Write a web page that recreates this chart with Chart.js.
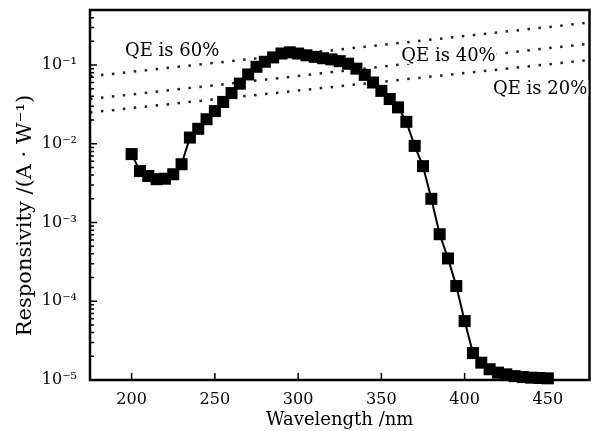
<!DOCTYPE html>
<html lang="en">
<head>
<meta charset="UTF-8">
<title>Responsivity</title>
<script src="https://cdn.jsdelivr.net/npm/chart.js"></script>
<style>
  html, body { margin: 0; padding: 0; background: #fff; }
</style>
</head>
<body>
<canvas id="grafica" width="598" height="431"></canvas>
<script>
// datos
const wavelength = [200, 205, 210, 215, 220, 225, 230, 235, 240, 245,
                    250, 255, 260, 265, 270, 275, 280, 285, 290, 295,
                    300, 305, 310, 315, 320, 325, 330, 335, 340, 345,
                    350, 355, 360, 365, 370, 375, 380, 385, 390, 395,
                    400, 405, 410, 415, 420, 425, 430, 435, 440, 445, 450];
const responsivity = [7.4e-3, 4.5e-3, 3.9e-3, 3.55e-3, 3.6e-3, 4.1e-3, 5.5e-3, 1.2e-2, 1.55e-2, 2.05e-2,
                      2.6e-2, 3.4e-2, 4.4e-2, 5.8e-2, 7.6e-2, 9.5e-2, 0.11, 0.125, 0.14, 0.145,
                      0.14, 0.133, 0.127, 0.122, 0.118, 0.112, 0.104, 0.09, 0.075, 0.06,
                      0.047, 0.037, 0.029, 0.019, 9.4e-3, 5.2e-3, 2.0e-3, 7.1e-4, 3.5e-4, 1.56e-4,
                      5.6e-5, 2.2e-5, 1.66e-5, 1.37e-5, 1.24e-5, 1.18e-5, 1.12e-5, 1.09e-5, 1.07e-5, 1.06e-5, 1.05e-5];

// lineas de eficiencia cuantica (extremos)
const qeWavelength = [175, 475];
const qe60 = [0.072, 0.346];
const qe40 = [0.037, 0.187];
const qe20 = [0.025, 0.116];
const qeLabels = ['QE is 60%', 'QE is 40%', 'QE is 20%'];

const xTicks = [200, 250, 300, 350, 400, 450];
const yTicks = [1e-5, 1e-4, 1e-3, 1e-2, 1e-1];
const yTickLabels = ['10⁻⁵', '10⁻⁴', '10⁻³', '10⁻²', '10⁻¹'];
const yTitle = 'Responsivity /(A · W⁻¹)';

const FONT = 'DejaVu Serif';

function puntos(xs, ys) {
    return xs.map((x, i) => ({ x: x, y: ys[i] }));
}

function lineaQE(valores) {
    return {
        data: puntos(qeWavelength, valores),
        showLine: true,
        borderColor: '#222',
        borderWidth: 2.5,
        borderDash: [2.5, 8.5],
        pointRadius: 0,
        order: 2
    };
}

// marco, marcas de los ejes y textos
const marco = {
    id: 'marco',
    afterDatasetsDraw(chart) {
        const ctx = chart.ctx;
        const a = chart.chartArea;
        const x = chart.scales.x;
        const y = chart.scales.y;
        ctx.save();
        ctx.strokeStyle = '#000';
        ctx.lineWidth = 1.5;
        ctx.beginPath();
        xTicks.forEach(v => {
            const px = x.getPixelForValue(v);
            ctx.moveTo(px, a.bottom);
            ctx.lineTo(px, a.bottom - 7);
        });
        for (let e = -5; e <= 0; e++) {
            for (let m = 1; m <= 9; m++) {
                const v = m * Math.pow(10, e);
                if (v > y.max) break;
                const py = y.getPixelForValue(v);
                ctx.moveTo(a.left, py);
                ctx.lineTo(a.left + (m === 1 ? 7 : 4), py);
            }
        }
        ctx.stroke();
        ctx.lineWidth = 2.5;
        ctx.strokeRect(a.left, a.top, a.right - a.left, a.bottom - a.top);

        // etiquetas QE
        const pos = [[196, 0.131], [362, 0.113], [417, 0.0427]];
        ctx.font = '18px "' + FONT + '"';
        ctx.textBaseline = 'alphabetic';
        ctx.textAlign = 'left';
        qeLabels.forEach((t, i) => {
            const px = x.getPixelForValue(pos[i][0]);
            const py = y.getPixelForValue(pos[i][1]);
            const w = ctx.measureText(t).width;
            ctx.fillStyle = '#fff';
            ctx.fillRect(px - 1, py - 14, w + 2, 17);
            ctx.fillStyle = '#000';
            ctx.fillText(t, px, py);
        });

        // titulo del eje y, centrado en el lienzo
        ctx.translate(26, chart.height / 2);
        ctx.rotate(-Math.PI / 2);
        ctx.font = '21px "' + FONT + '"';
        ctx.textAlign = 'center';
        ctx.textBaseline = 'middle';
        ctx.fillText(yTitle, 0, 0);
        ctx.restore();
    }
};

const ctx = document.getElementById('grafica').getContext('2d');
new Chart(ctx, {
    type: 'scatter',
    data: {
        datasets: [
            {
                data: puntos(wavelength, responsivity),
                showLine: true,
                borderColor: '#000',
                borderWidth: 2,
                tension: 0,
                pointStyle: 'rect',
                pointRadius: 8.5,
                pointBackgroundColor: '#000',
                pointBorderWidth: 0,
                clip: false,
                order: 1
            },
            lineaQE(qe60),
            lineaQE(qe40),
            lineaQE(qe20)
        ]
    },
    options: {
        responsive: false,
        animation: false,
        layout: { padding: { top: 10, right: 6, left: 0, bottom: 0 } },
        plugins: {
            legend: { display: false },
            tooltip: { enabled: false }
        },
        scales: {
            x: {
                type: 'linear',
                min: 175,
                max: 475,
                afterBuildTicks: s => { s.ticks = xTicks.map(v => ({ value: v })); },
                afterFit: s => { s.height = 51; s.paddingLeft = 0; s.paddingRight = 0; },
                grid: { display: false },
                border: { display: false },
                ticks: { color: '#000', padding: 2, maxRotation: 0, font: { family: FONT, size: 16 } },
                title: {
                    display: true,
                    text: 'Wavelength /nm',
                    color: '#000',
                    padding: { top: 0, bottom: 0 },
                    font: { family: FONT, size: 18 }
                }
            },
            y: {
                type: 'logarithmic',
                min: 1e-5,
                max: 0.5,
                afterBuildTicks: s => { s.ticks = yTicks.map(v => ({ value: v })); },
                afterFit: s => { s.width = 90; s.paddingTop = 0; s.paddingBottom = 0; },
                grid: { display: false },
                border: { display: false },
                ticks: {
                    color: '#000',
                    padding: 5,
                    font: { family: FONT, size: 16 },
                    callback: (v, i) => yTickLabels[i]
                }
            }
        }
    },
    plugins: [marco]
});
</script>
</body>
</html>
